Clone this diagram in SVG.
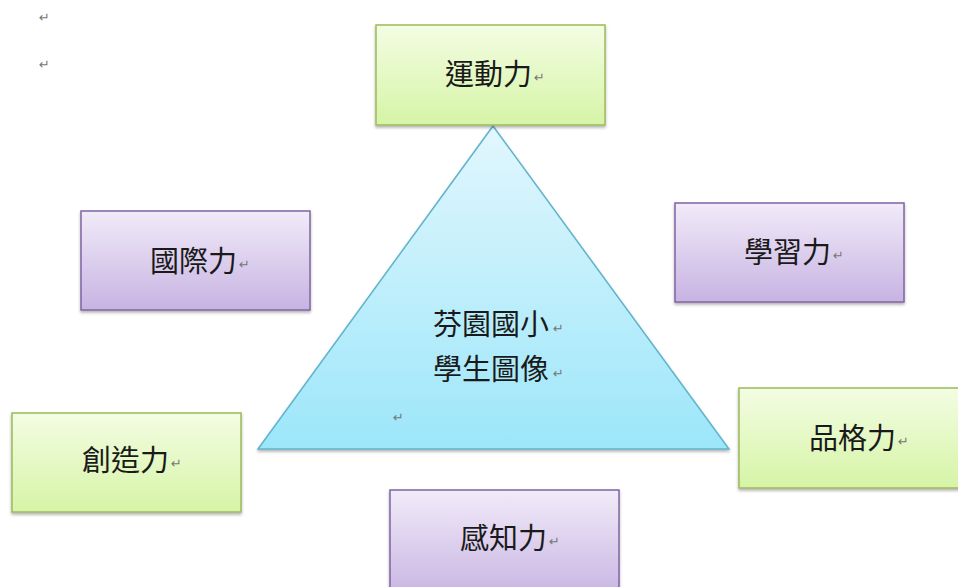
<svg xmlns="http://www.w3.org/2000/svg" width="958" height="587" viewBox="0 0 958 587">
<style>
.lbl{font-family:"Noto Sans CJK TC","Noto Sans CJK SC",sans-serif;font-size:29px;fill:#1a1a1a}
.pm{font-family:"DejaVu Sans",sans-serif;font-size:13px;fill:#777}
.g{fill:url(#gg);stroke:#9bbb59;stroke-width:1.5}
.p{fill:url(#pg);stroke:#8064a2;stroke-width:1.5}
</style>
<defs>
<linearGradient id="gg" x1="0" y1="0" x2="0" y2="1"><stop offset="0" stop-color="#f3fde3"/><stop offset="1" stop-color="#d6f4a6"/></linearGradient>
<linearGradient id="pg" x1="0" y1="0" x2="0" y2="1"><stop offset="0" stop-color="#f1ebf9"/><stop offset="1" stop-color="#c7b3e2"/></linearGradient>
<linearGradient id="tg" x1="0" y1="0" x2="0" y2="1"><stop offset="0" stop-color="#e2f7fd"/><stop offset="1" stop-color="#9ce6fa"/></linearGradient>
<filter id="sh" x="-10%" y="-10%" width="120%" height="125%"><feDropShadow dx="0" dy="2" stdDeviation="1.5" flood-color="#000" flood-opacity="0.3"/></filter>
</defs>
<rect width="958" height="587" fill="#fff"/>
<text class="pm" x="39" y="22">↵</text>
<text class="pm" x="39" y="69">↵</text>
<g id="center">
<polygon points="493,126 258,449 729,449" fill="url(#tg)" stroke="#5fb3cc" stroke-width="1.5" filter="url(#sh)"/>
<text class="lbl" x="433" y="335">芬園國小</text><text class="pm" x="553" y="333">↵</text>
<text class="lbl" x="433" y="380">學生圖像</text><text class="pm" x="553" y="378">↵</text>
<text class="pm" x="393" y="422">↵</text>
</g>
<g id="connectors"></g>
<g id="n1"><rect class="g" x="376" y="25" width="229" height="100" filter="url(#sh)"/><text class="lbl" x="445" y="85">運動力</text><text class="pm" x="534" y="82">↵</text></g>
<g id="n2"><rect class="p" x="81" y="211" width="229" height="99" filter="url(#sh)"/><text class="lbl" x="150" y="272">國際力</text><text class="pm" x="239" y="269">↵</text></g>
<g id="n3"><rect class="p" x="675" y="203" width="229" height="99" filter="url(#sh)"/><text class="lbl" x="744" y="263">學習力</text><text class="pm" x="833" y="260">↵</text></g>
<g id="n4"><rect class="g" x="12" y="413" width="229" height="99" filter="url(#sh)"/><text class="lbl" x="82" y="471">創造力</text><text class="pm" x="171" y="468">↵</text></g>
<g id="n5"><rect class="g" x="739" y="388" width="229" height="100" filter="url(#sh)"/><text class="lbl" x="809" y="449">品格力</text><text class="pm" x="898" y="446">↵</text></g>
<g id="n6"><rect class="p" x="390" y="490" width="229" height="110" filter="url(#sh)"/><text class="lbl" x="460" y="549">感知力</text><text class="pm" x="549" y="546">↵</text></g>
</svg>
